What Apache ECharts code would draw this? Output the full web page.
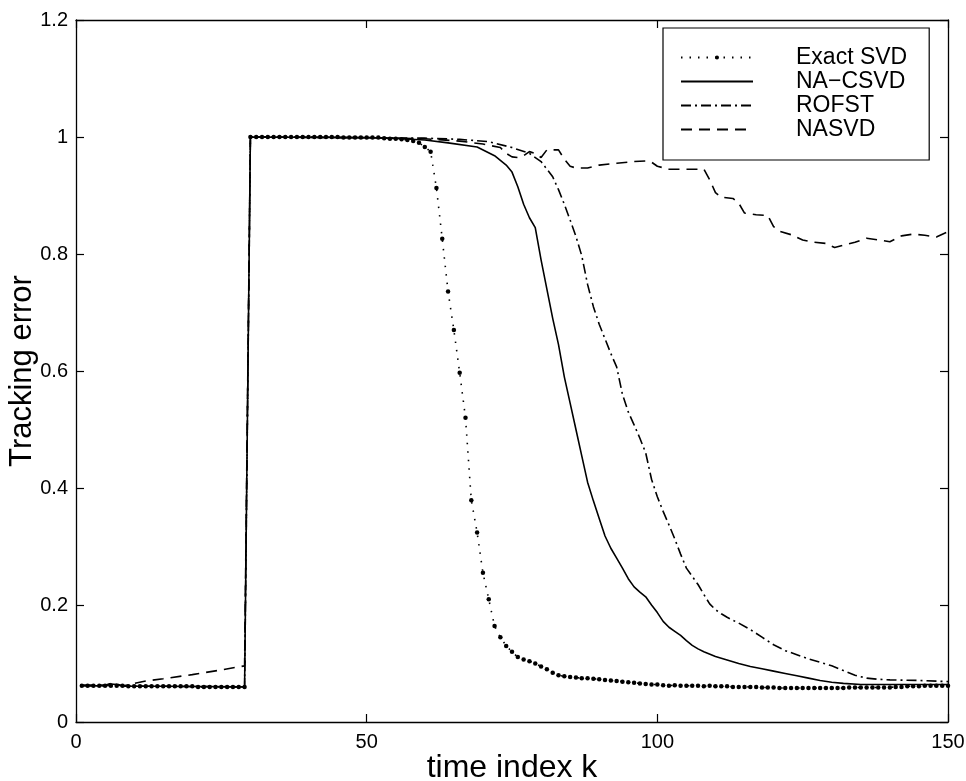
<!DOCTYPE html>
<html>
<head>
<meta charset="utf-8">
<script src="https://cdn.jsdelivr.net/npm/echarts@6/dist/echarts.min.js"></script>
<style>
  html, body { margin: 0; padding: 0; background: #fff; }
  #chart { width: 966px; height: 781px; }
</style>
</head>
<body>
<div id="chart"></div>
<script>
// series names, in legend order
const seriesNames = ['Exact SVD', 'NA\u2212CSVD', 'ROFST', 'NASVD']

// Exact SVD: one value per time index k = 1..150
const exactSvd = [
  0.062, 0.062, 0.062, 0.062, 0.062, 0.062, 0.062, 0.062,
  0.061, 0.061, 0.061, 0.061, 0.061, 0.061, 0.061, 0.061, 0.061, 0.061, 0.061, 0.061,
  0.060, 0.060, 0.060, 0.060, 0.060, 0.060, 0.060, 0.060, 0.060,
  1.0, 1.0, 1.0, 1.0, 1.0, 1.0, 1.0, 1.0, 1.0, 1.0, 1.0, 1.0, 1.0, 1.0, 1.0, 1.0,
  0.999, 0.999, 0.999, 0.999, 0.999, 0.999, 0.999,
  0.998, 0.997, 0.997, 0.996,
  0.995, 0.993, 0.990, 0.983, 0.975, 0.913, 0.826, 0.736, 0.670, 0.597,
  0.520, 0.379, 0.324, 0.255, 0.210, 0.164, 0.145, 0.130, 0.120, 0.111,
  0.107, 0.104, 0.100, 0.095, 0.090, 0.084, 0.080, 0.078, 0.077, 0.076,
  0.075, 0.075, 0.074, 0.073, 0.072, 0.071, 0.070, 0.069, 0.068, 0.067,
  0.066, 0.065, 0.064, 0.064,
  0.063, 0.062, 0.063, 0.062, 0.062, 0.062, 0.062, 0.061, 0.062, 0.061,
  0.061, 0.061, 0.060, 0.060, 0.060, 0.060, 0.060, 0.059, 0.059, 0.059,
  0.058, 0.058, 0.058, 0.058, 0.058, 0.058, 0.058, 0.058, 0.058, 0.058, 0.058, 0.058,
  0.059, 0.059, 0.059, 0.059, 0.059, 0.059, 0.059, 0.059,
  0.060, 0.060, 0.061, 0.061, 0.061, 0.062, 0.062, 0.062, 0.062, 0.062
]

// NA-CSVD: [k, error]
const naCsvd = [
  [1, 0.062], [5, 0.062], [6, 0.065], [7, 0.064], [8, 0.061], [15, 0.061], [29, 0.060],
  [30, 1.0], [50, 0.999], [56, 0.997], [60, 0.995], [64, 0.990], [69, 0.983], [72, 0.968],
  [74, 0.952], [75, 0.940], [76, 0.915], [77, 0.885], [78, 0.862], [79, 0.845], [80, 0.790],
  [81, 0.740], [82, 0.690], [83, 0.645], [84, 0.590], [85, 0.545], [86, 0.500], [87, 0.455],
  [88, 0.410], [89, 0.378], [90, 0.348], [91, 0.318], [92, 0.297], [93, 0.280], [94, 0.263],
  [95, 0.245], [96, 0.231], [97, 0.222], [98, 0.214], [99, 0.200], [100, 0.187], [101, 0.172],
  [102, 0.162], [103, 0.155], [104, 0.148], [105, 0.139], [106, 0.131], [107, 0.125], [108, 0.120],
  [110, 0.112], [112, 0.106], [114, 0.100], [116, 0.095], [118, 0.091], [120, 0.087], [122, 0.083],
  [124, 0.079], [126, 0.075], [128, 0.071], [130, 0.068], [132, 0.066], [135, 0.064], [150, 0.064]
]

// ROFST: [k, error]
const rofst = [
  [1, 0.062], [5, 0.062], [6, 0.065], [7, 0.064], [8, 0.061], [15, 0.061], [29, 0.060],
  [30, 1.0], [60, 0.998], [66, 0.996], [71, 0.992], [75, 0.982], [78, 0.972], [80, 0.958],
  [81, 0.945], [82, 0.932], [83, 0.910], [84, 0.885], [85, 0.858], [86, 0.830], [87, 0.797],
  [88, 0.748], [89, 0.710], [90, 0.680], [91, 0.655], [92, 0.630], [93, 0.607], [94, 0.560],
  [95, 0.530], [96, 0.508], [97, 0.485], [98, 0.460], [99, 0.415], [100, 0.385], [101, 0.360],
  [102, 0.337], [103, 0.313], [104, 0.287], [105, 0.263], [106, 0.249], [107, 0.235], [108, 0.218],
  [109, 0.202], [110, 0.192], [111, 0.185], [112, 0.179], [114, 0.169], [116, 0.158], [118, 0.145],
  [120, 0.132], [122, 0.122], [124, 0.115], [126, 0.108], [128, 0.102], [130, 0.096], [132, 0.088],
  [134, 0.080], [136, 0.075], [138, 0.073], [140, 0.072], [145, 0.071], [150, 0.069]
]

// NASVD: [k, error]
const nasvd = [
  [1, 0.063], [5, 0.063], [6, 0.066], [7, 0.065], [8, 0.062], [9, 0.063], [10, 0.066],
  [12, 0.070], [15, 0.074], [20, 0.081], [25, 0.089], [29, 0.096],
  [30, 1.0], [50, 0.999], [60, 0.997], [66, 0.993], [70, 0.988], [73, 0.982], [74, 0.972],
  [75, 0.966], [76, 0.965], [77, 0.968], [78, 0.975], [79, 0.972], [80, 0.965], [81, 0.978],
  [83, 0.978], [84, 0.962], [85, 0.950], [86, 0.947], [88, 0.947], [90, 0.952], [93, 0.955],
  [96, 0.958], [98, 0.959], [99, 0.957], [100, 0.950], [102, 0.945], [108, 0.945], [109, 0.927],
  [110, 0.905], [111, 0.897], [113, 0.895], [114, 0.887], [115, 0.870], [117, 0.867], [119, 0.866],
  [120, 0.847], [121, 0.839], [123, 0.833], [125, 0.824], [127, 0.820], [129, 0.818], [130.5, 0.811],
  [132, 0.815], [134, 0.820], [136, 0.827], [138, 0.824], [140, 0.821], [142, 0.831], [144, 0.834],
  [146, 0.832], [148, 0.829], [150, 0.838]
]

const xTicks = { min: 0, max: 150, interval: 50 }
const yTicks = { min: 0, max: 1.2, interval: 0.2 }

const FONT = '"Liberation Sans", Arial, Helvetica, sans-serif'
const ink = '#000'

const chart = echarts.init(document.getElementById('chart'), null, { renderer: 'canvas' })

const frameAxis = (extra) => ({
  type: 'value',
  splitLine: { show: false },
  axisLine: { show: true, onZero: false, lineStyle: { color: ink, width: 1.3 } },
  axisTick: { show: true, inside: true, length: 8, lineStyle: { color: ink, width: 1.2 } },
  ...extra,
})

// legend entries: hide the little symbol on the plain lines
const legendData = seriesNames.map((name, i) => (i === 0 ? { name } : { name, itemStyle: { opacity: 0 } }))

const options = {
  animation: false,
  backgroundColor: '#fff',
  grid: { left: 76, right: 18, top: 20, bottom: 59, outerBoundsMode: 'none', containLabel: false },
  legend: {
    data: legendData,
    orient: 'vertical',
    left: 663,
    top: 28,
    padding: [18, 22, 19, 17],
    itemGap: 1,
    itemWidth: 72,
    itemHeight: 5,
    borderColor: ink,
    borderWidth: 1.2,
    backgroundColor: '#fff',
    textStyle: { fontFamily: FONT, fontSize: 23, color: ink, lineHeight: 22, padding: [0, 0, 0, 38] },
    selectedMode: false,
  },
  xAxis: [
    frameAxis({
      ...xTicks,
      position: 'bottom',
      name: 'time index k',
      nameLocation: 'middle',
      nameGap: 30,
      nameMoveOverlap: false,
      nameTextStyle: { fontFamily: FONT, fontSize: 32, color: ink },
      axisLabel: { fontFamily: FONT, fontSize: 20, color: ink, margin: 10 },
    }),
    frameAxis({ ...xTicks, position: 'top', axisLabel: { show: false } }),
  ],
  yAxis: [
    frameAxis({
      ...yTicks,
      position: 'left',
      name: 'Tracking error',
      nameLocation: 'middle',
      nameGap: 38,
      nameMoveOverlap: false,
      nameTextStyle: { fontFamily: FONT, fontSize: 31, color: ink },
      axisLabel: { fontFamily: FONT, fontSize: 20, color: ink, margin: 8 },
    }),
    frameAxis({ ...yTicks, position: 'right', axisLabel: { show: false } }),
  ],
  series: [
    {
      name: seriesNames[3],
      type: 'line',
      data: nasvd,
      symbol: 'none',
      lineStyle: { color: ink, width: 1.6, type: [11, 7] },
    },
    {
      name: seriesNames[2],
      type: 'line',
      data: rofst,
      symbol: 'none',
      lineStyle: { color: ink, width: 1.6, type: [10, 4, 2, 4] },
    },
    {
      name: seriesNames[1],
      type: 'line',
      data: naCsvd,
      symbol: 'none',
      lineStyle: { color: ink, width: 1.6 },
    },
    {
      name: seriesNames[0],
      type: 'line',
      data: exactSvd.map((v, i) => [i + 1, v]),
      symbol: 'circle',
      symbolSize: 4.5,
      showAllSymbol: true,
      itemStyle: { color: ink },
      lineStyle: { color: ink, width: 1.6, type: [1.5, 7] },
    },
  ],
}

chart.setOption(options)
</script>
</body>
</html>
